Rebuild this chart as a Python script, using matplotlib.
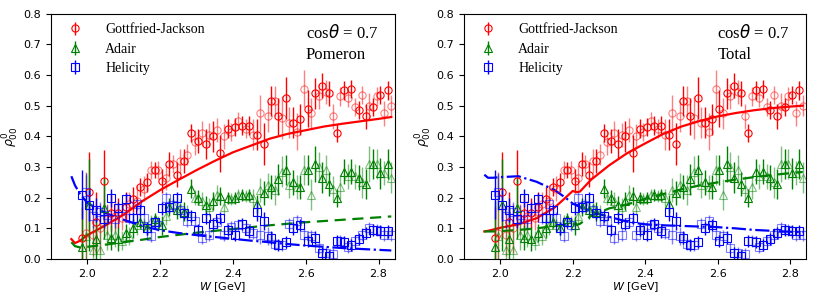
import numpy as np
import matplotlib
matplotlib.use('Agg')
import matplotlib.pyplot as plt

# W bins of the data (GeV)
W = np.round(np.arange(1.985, 2.836, 0.01), 3)

# Gottfried-Jackson data
gj = [0.07, 0.085, 0.22, 0.08, 0.12, 0.10, 0.255, 0.13, 0.15, 0.14,
      0.15, 0.135, 0.17, 0.18, 0.195, 0.19, 0.235, 0.23, 0.25, 0.29,
      0.29, 0.29, 0.255, 0.265, 0.31, 0.31, 0.275, 0.32, 0.32, 0.34,
      0.41, 0.38, 0.385, 0.41, 0.375, 0.405, 0.40, 0.42, 0.345, 0.40,
      0.425, 0.415, 0.43, 0.45, 0.435, 0.425, 0.435, 0.405, 0.405, 0.475,
      0.375, 0.465, 0.515, 0.515, 0.465, 0.46, 0.525, 0.445, 0.445, 0.415,
      0.455, 0.555, 0.49, 0.475, 0.54, 0.53, 0.565, 0.545, 0.54, 0.465,
      0.41, 0.53, 0.55, 0.525, 0.555, 0.495, 0.485, 0.535, 0.465, 0.50,
      0.495, 0.53, 0.535, 0.475, 0.55, 0.50]
gj_err = [0.1, 0.2, 0.13, 0.07, 0.1, 0.08, 0.1, 0.05, 0.06, 0.05,
          0.05, 0.04, 0.05, 0.04, 0.04, 0.05, 0.03, 0.04, 0.03, 0.03,
          0.025, 0.03, 0.04, 0.04, 0.04, 0.03, 0.04, 0.04, 0.04, 0.035,
          0.03, 0.04, 0.04, 0.04, 0.05, 0.04, 0.05, 0.04, 0.06, 0.04,
          0.03, 0.03, 0.03, 0.03, 0.03, 0.03, 0.03, 0.05, 0.05, 0.06,
          0.07, 0.05, 0.05, 0.05, 0.06, 0.07, 0.07, 0.05, 0.05, 0.06,
          0.05, 0.06, 0.06, 0.05, 0.05, 0.04, 0.04, 0.04, 0.04, 0.04,
          0.03, 0.03, 0.03, 0.03, 0.03, 0.03, 0.03, 0.03, 0.04, 0.04,
          0.03, 0.03, 0.03, 0.04, 0.03, 0.035]

# Adair data
ad = [0.04, 0.075, 0.175, 0.03, 0.065, 0.03, 0.165, 0.08, 0.07, 0.08,
      0.065, 0.06, 0.085, 0.075, 0.10, 0.11, 0.12, 0.11, 0.10, 0.125,
      0.13, 0.12, 0.11, 0.14, 0.17, 0.18, 0.16, 0.165, 0.155, 0.15,
      0.23, 0.20, 0.20, 0.19, 0.175, 0.17, 0.19, 0.21, 0.205, 0.17,
      0.20, 0.195, 0.20, 0.21, 0.21, 0.205, 0.21, 0.20, 0.18, 0.225,
      0.215, 0.24, 0.235, 0.225, 0.26, 0.285, 0.29, 0.24, 0.25, 0.235,
      0.235, 0.29, 0.29, 0.21, 0.31, 0.30, 0.265, 0.29, 0.245, 0.23,
      0.20, 0.235, 0.285, 0.27, 0.285, 0.27, 0.265, 0.25, 0.245, 0.31,
      0.31, 0.31, 0.28, 0.28, 0.31, 0.265]
ad_err = [0.15, 0.2, 0.15, 0.08, 0.1, 0.08, 0.1, 0.05, 0.04, 0.04,
          0.04, 0.03, 0.03, 0.03, 0.03, 0.03, 0.02, 0.02, 0.02, 0.02,
          0.02, 0.02, 0.03, 0.03, 0.03, 0.025, 0.03, 0.03, 0.03, 0.025,
          0.03, 0.025, 0.025, 0.03, 0.03, 0.03, 0.03, 0.03, 0.03, 0.025,
          0.02, 0.02, 0.02, 0.02, 0.02, 0.02, 0.02, 0.03, 0.03, 0.04,
          0.04, 0.04, 0.04, 0.05, 0.05, 0.05, 0.05, 0.04, 0.04, 0.04,
          0.04, 0.05, 0.05, 0.05, 0.06, 0.05, 0.05, 0.05, 0.04, 0.04,
          0.03, 0.04, 0.04, 0.04, 0.04, 0.04, 0.04, 0.05, 0.05, 0.06,
          0.05, 0.05, 0.05, 0.04, 0.05, 0.05]

# Helicity data
he = [0.21, 0.22, 0.175, 0.14, 0.16, 0.155, 0.13, 0.145, 0.20, 0.13,
      0.165, 0.165, 0.195, 0.135, 0.135, 0.18, 0.16, 0.135, 0.10, 0.075,
      0.12, 0.11, 0.165, 0.20, 0.17, 0.175, 0.20, 0.16, 0.15, 0.125,
      0.14, 0.125, 0.095, 0.07, 0.135, 0.08, 0.115, 0.12, 0.135, 0.08,
      0.095, 0.105, 0.08, 0.11, 0.115, 0.10, 0.09, 0.085, 0.155, 0.08,
      0.125, 0.075, 0.07, 0.05, 0.045, 0.045, 0.055, 0.115, 0.10, 0.125,
      0.11, 0.08, 0.06, 0.075, 0.07, 0.035, 0.02, 0.02, 0.01, 0.015,
      0.06, 0.06, 0.055, 0.04, 0.045, 0.06, 0.065, 0.08, 0.085, 0.10,
      0.095, 0.095, 0.09, 0.08, 0.09, 0.08]
he_err = [0.08, 0.06, 0.05, 0.04, 0.04, 0.03, 0.03, 0.03, 0.03, 0.03,
          0.02, 0.02, 0.02, 0.02, 0.02, 0.02, 0.02, 0.02, 0.02, 0.02,
          0.02, 0.02, 0.02, 0.02, 0.02, 0.02, 0.02, 0.02, 0.02, 0.02,
          0.02, 0.02, 0.02, 0.02, 0.02, 0.02, 0.02, 0.02, 0.02, 0.02,
          0.02, 0.02, 0.02, 0.02, 0.02, 0.02, 0.02, 0.02, 0.03, 0.03,
          0.03, 0.03, 0.02, 0.02, 0.02, 0.02, 0.02, 0.02, 0.02, 0.02,
          0.02, 0.02, 0.02, 0.02, 0.02, 0.02, 0.02, 0.02, 0.02, 0.02,
          0.02, 0.02, 0.02, 0.02, 0.02, 0.02, 0.02, 0.02, 0.02, 0.02,
          0.02, 0.02, 0.02, 0.02, 0.02, 0.02]

# model curves, Pomeron only
w_pom = [1.956, 1.966, 1.98, 2.0, 2.05, 2.1, 2.15, 2.2, 2.25, 2.3, 2.35,
         2.4, 2.45, 2.5, 2.55, 2.6, 2.65, 2.7, 2.75, 2.8, 2.835]
gj_pom = [0.065, 0.052, 0.06, 0.078, 0.11, 0.145, 0.188, 0.225, 0.258, 0.29, 0.32,
          0.348, 0.37, 0.392, 0.408, 0.42, 0.432, 0.441, 0.449, 0.457, 0.463]
ad_pom = [0.055, 0.042, 0.038, 0.04, 0.047, 0.055, 0.063, 0.072, 0.079, 0.086, 0.092,
          0.098, 0.104, 0.11, 0.115, 0.12, 0.124, 0.128, 0.132, 0.136, 0.139]
he_pom = [0.27, 0.24, 0.212, 0.183, 0.15, 0.128, 0.108, 0.094, 0.085, 0.078, 0.072,
          0.066, 0.06, 0.055, 0.049, 0.044, 0.04, 0.036, 0.033, 0.03, 0.028]

# model curves, total
w_tot = [1.956, 1.966, 1.98, 2.0, 2.05, 2.1, 2.15, 2.18, 2.2, 2.21, 2.22, 2.25,
         2.3, 2.35, 2.4, 2.45, 2.5, 2.55, 2.6, 2.65, 2.7, 2.75, 2.8, 2.835]
gj_tot = [0.09, 0.092, 0.096, 0.102, 0.113, 0.133, 0.168, 0.2, 0.222, 0.218, 0.22, 0.258,
          0.305, 0.345, 0.377, 0.408, 0.432, 0.45, 0.465, 0.476, 0.485, 0.492, 0.497, 0.5]
ad_tot = [0.09, 0.09, 0.09, 0.091, 0.095, 0.1, 0.108, 0.113, 0.116, 0.111, 0.115, 0.14,
          0.165, 0.178, 0.196, 0.212, 0.227, 0.24, 0.25, 0.259, 0.267, 0.274, 0.28, 0.284]
he_tot = [0.275, 0.265, 0.265, 0.267, 0.27, 0.252, 0.225, 0.2, 0.181, 0.175, 0.17, 0.154,
          0.138, 0.122, 0.113, 0.11, 0.108, 0.106, 0.104, 0.1, 0.095, 0.092, 0.089, 0.088]

frames = ['Gottfried-Jackson', 'Adair', 'Helicity']
colors = ['red', 'green', 'blue']
markers = ['o', '^', 's']
data = [(gj, gj_err), (ad, ad_err), (he, he_err)]
panels = [('Pomeron', w_pom, [gj_pom, ad_pom, he_pom]),
          ('Total', w_tot, [gj_tot, ad_tot, he_tot])]
styles = ['-', (0, (5, 3)), '-.']

serif = 'Liberation Serif'

fig = plt.figure(figsize=(8.17, 3.03), dpi=100)
positions = [[0.0624, 0.145, 0.421, 0.81], [0.568, 0.145, 0.419, 0.81]]

for pos, (label, wc, curves) in zip(positions, panels):
    ax = fig.add_axes(pos)
    handles = []
    for name, c, m, (y, e), ls, curve in zip(frames, colors, markers, data, styles, curves):
        y = np.array(y)
        e = np.array(e)
        # alternate strong / pale error bars
        h = ax.errorbar(W[::2], y[::2], yerr=e[::2], fmt=m, color=c, mfc='none',
                        ms=5.2, mew=0.8, elinewidth=1.0, capsize=0, label=name)
        ax.errorbar(W[1::2], y[1::2], yerr=e[1::2], fmt=m, color=c, mfc='none',
                    ms=5.2, mew=0.8, elinewidth=1.0, capsize=0, alpha=0.5, mec=c)
        ax.plot(wc, curve, color=c, ls=ls, lw=1.6)
        handles.append(h)
    ax.set_xlim(1.90, 2.845)
    ax.set_ylim(0, 0.8)
    ax.set_xticks([2.0, 2.2, 2.4, 2.6, 2.8])
    ax.tick_params(labelsize=8)
    ax.set_xlabel(r'$W$ [GeV]', fontsize=8, labelpad=1)
    ax.set_ylabel(r'$\rho^0_{00}$', fontsize=9, labelpad=2)
    ax.legend(handles=handles, loc='upper left', frameon=False,
              prop={'family': serif, 'size': 10}, handletextpad=1.2,
              borderaxespad=0.3, labelspacing=0.45)
    ax.text(0.74, 0.92, r'cos$\theta$ = 0.7', transform=ax.transAxes,
            family=serif, fontsize=12, va='center')
    ax.text(0.74, 0.83, label, transform=ax.transAxes,
            family=serif, fontsize=12, va='center')

plt.savefig('out.png', dpi=100)
